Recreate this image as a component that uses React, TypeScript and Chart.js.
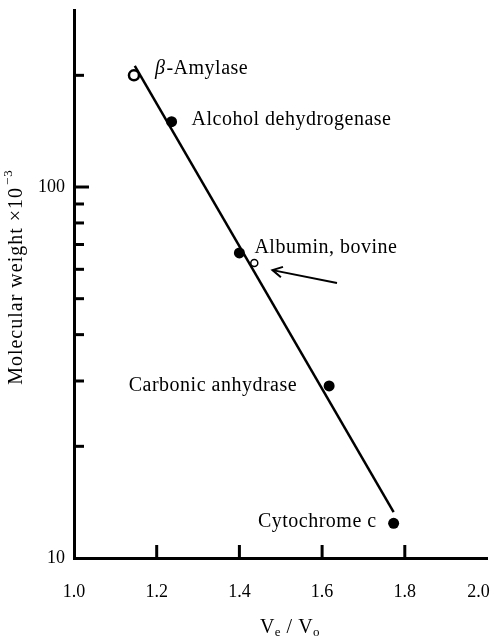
import React, { useEffect, useRef } from 'react';
import { Chart, registerables } from 'chart.js';

Chart.register(...registerables);

// ---- data ----
const xTickValues = [1.0, 1.2, 1.4, 1.6, 1.8, 2.0];
const yTickValues = [10, 20, 30, 40, 50, 60, 70, 80, 90, 100, 200, 300];
const yLabelledTicks = [10, 100];

const filledNames = ['Alcohol dehydrogenase', 'Albumin, bovine', 'Carbonic anhydrase', 'Cytochrome c'];
const filledX = [1.236, 1.4, 1.617, 1.773];
const filledY = [150, 66.4, 29.1, 12.4];

const openNames = ['β-Amylase', 'Albumin (open)'];
const openX = [1.145, 1.436];
const openY = [200, 62.4];

const fitX = [1.147, 1.773];
const fitY = [212, 13.3];

const arrowX = [1.636, 1.48];
const arrowY = [55.1, 59.7];

// ---- styles ----
const SERIF = '"Liberation Serif", "Times New Roman", serif';
const labelStyle: Record<string, { side: 'left' | 'right'; dx: number; dy: number; series: 'filled' | 'open'; idx: number }> = {
  'β-Amylase': { side: 'left', dx: 21, dy: -1, series: 'open', idx: 0 },
  'Alcohol dehydrogenase': { side: 'left', dx: 20, dy: 3, series: 'filled', idx: 0 },
  'Albumin, bovine': { side: 'left', dx: 15, dy: 0, series: 'filled', idx: 1 },
  'Carbonic anhydrase': { side: 'right', dx: -32, dy: 5, series: 'filled', idx: 2 },
  'Cytochrome c': { side: 'right', dx: -17, dy: 4, series: 'filled', idx: 3 },
};

const decorPlugin = {
  id: 'decor',
  afterDraw(chart: any) {
    const ctx: CanvasRenderingContext2D = chart.ctx;
    const xs = chart.scales.x;
    const ys = chart.scales.y;
    const area = chart.chartArea;
    ctx.save();
    ctx.strokeStyle = '#000';
    ctx.fillStyle = '#000';
    ctx.lineCap = 'butt';

    // inward tick marks on y axis
    ctx.lineWidth = 3;
    ys.ticks.forEach((t: any) => {
      if (t.value <= 10 || t.value >= 300) return;
      const py = ys.getPixelForValue(t.value);
      const len = t.value === 100 ? 15 : 10;
      ctx.beginPath();
      ctx.moveTo(area.left, py);
      ctx.lineTo(area.left + len, py);
      ctx.stroke();
    });
    // inward tick marks on x axis
    xs.ticks.forEach((t: any) => {
      if (t.value <= 1.0 || t.value >= 2.0) return;
      const px = xs.getPixelForValue(t.value);
      ctx.beginPath();
      ctx.moveTo(px, area.bottom);
      ctx.lineTo(px, area.bottom - 13);
      ctx.stroke();
    });

    // arrow
    const ax0 = xs.getPixelForValue(arrowX[0]);
    const ay0 = ys.getPixelForValue(arrowY[0]);
    const ax1 = xs.getPixelForValue(arrowX[1]);
    const ay1 = ys.getPixelForValue(arrowY[1]);
    ctx.lineWidth = 2;
    ctx.beginPath();
    ctx.moveTo(ax0, ay0);
    ctx.lineTo(ax1, ay1);
    ctx.stroke();
    const ang = Math.atan2(ay0 - ay1, ax0 - ax1);
    const head = 11;
    ctx.beginPath();
    ctx.moveTo(ax1 + head * Math.cos(ang + 0.5), ay1 + head * Math.sin(ang + 0.5));
    ctx.lineTo(ax1, ay1);
    ctx.lineTo(ax1 + head * Math.cos(ang - 0.5), ay1 + head * Math.sin(ang - 0.5));
    ctx.stroke();

    // annotation labels
    (ctx as any).letterSpacing = '0.5px';
    ctx.textBaseline = 'alphabetic';
    Object.keys(labelStyle).forEach((name) => {
      const s = labelStyle[name];
      const px = xs.getPixelForValue(s.series === 'filled' ? filledX[s.idx] : openX[s.idx]);
      const py = ys.getPixelForValue(s.series === 'filled' ? filledY[s.idx] : openY[s.idx]);
      const bx = px + s.dx;
      const by = py + s.dy;
      if (name.startsWith('β')) {
        ctx.textAlign = 'left';
        ctx.font = `italic 20px ${SERIF}`;
        ctx.fillText('β', bx, by);
        const w = ctx.measureText('β').width;
        ctx.font = `20px ${SERIF}`;
        ctx.fillText(name.slice(1), bx + w + 1, by);
      } else {
        ctx.font = `20px ${SERIF}`;
        ctx.textAlign = s.side;
        ctx.fillText(name, bx, by);
      }
    });

    // x axis title: Ve / Vo
    ctx.textAlign = 'left';
    const big = `20px ${SERIF}`;
    const small = `13px ${SERIF}`;
    const parts: [string, string, number][] = [
      ['V', big, 0],
      ['e', small, 3],
      [' / ', big, 0],
      ['V', big, 0],
      ['o', small, 3],
    ];
    let total = 0;
    parts.forEach(([t, f]) => {
      ctx.font = f;
      total += ctx.measureText(t).width;
    });
    let cx = 290 - total / 2;
    const base = 633;
    parts.forEach(([t, f, off]) => {
      ctx.font = f;
      ctx.fillText(t, cx, base + off);
      cx += ctx.measureText(t).width;
    });

    // y axis title: Molecular weight ×10^-3 (rotated)
    ctx.save();
    ctx.translate(17, 277);
    ctx.rotate(-Math.PI / 2);
    (ctx as any).letterSpacing = '1px';
    const main = 'Molecular weight ×10';
    const sup = '−3';
    ctx.font = `20px ${SERIF}`;
    const wMain = ctx.measureText(main).width;
    ctx.font = `13px ${SERIF}`;
    const wSup = ctx.measureText(sup).width;
    const start = -(wMain + wSup + 2) / 2;
    ctx.textBaseline = 'middle';
    ctx.font = `20px ${SERIF}`;
    ctx.fillText(main, start, 0);
    ctx.font = `13px ${SERIF}`;
    ctx.fillText(sup, start + wMain + 2, -8);
    ctx.restore();

    ctx.restore();
  },
};

export default function App() {
  const ref = useRef<HTMLCanvasElement | null>(null);

  useEffect(() => {
    if (!ref.current) return;
    const chart = new Chart(ref.current, {
      type: 'scatter',
      data: {
        datasets: [
          {
            label: 'open',
            data: openX.map((x, i) => ({ x, y: openY[i] })),
            pointRadius: [5, 3.5],
            pointBorderWidth: [2.5, 1.5],
            pointBackgroundColor: '#fff',
            pointBorderColor: '#000',
            order: 0,
          },
          {
            label: 'filled',
            data: filledX.map((x, i) => ({ x, y: filledY[i] })),
            pointRadius: 5.5,
            pointBorderWidth: 0,
            pointBackgroundColor: '#000',
            pointBorderColor: '#000',
            order: 1,
          },
          {
            label: 'fit',
            data: fitX.map((x, i) => ({ x, y: fitY[i] })),
            showLine: true,
            borderColor: '#000',
            borderWidth: 2.5,
            pointRadius: 0,
            order: 2,
          } as any,
        ],
      },
      options: {
        animation: false,
        responsive: false,
        devicePixelRatio: 1,
        layout: { padding: { top: 10, right: 6, left: 0, bottom: 0 } },
        plugins: {
          legend: { display: false },
          tooltip: { enabled: false },
        },
        scales: {
          x: {
            type: 'linear',
            min: 1,
            max: 2,
            afterBuildTicks: (s: any) => {
              s.ticks = xTickValues.map((v) => ({ value: v }));
            },
            ticks: {
              autoSkip: false,
              maxRotation: 0,
              color: '#000',
              padding: 23,
              font: { family: SERIF, size: 18 },
              callback: (v: any) => (Number(v) === 2 ? Number(v).toFixed(1) + '    ' : Number(v).toFixed(1)),
            },
            grid: { display: false, drawTicks: false },
            border: { display: true, color: '#000', width: 3 },
            afterFit: (s: any) => {
              s.height = 81;
              s.paddingLeft = 0;
              s.paddingRight = 0;
            },
          },
          y: {
            type: 'logarithmic',
            min: 10,
            max: 300,
            afterBuildTicks: (s: any) => {
              s.ticks = yTickValues.map((v) => ({ value: v }));
            },
            ticks: {
              autoSkip: false,
              color: '#000',
              padding: 9,
              font: { family: SERIF, size: 18 },
              callback: (v: any) => (yLabelledTicks.includes(Number(v)) ? String(v) : ''),
            },
            grid: { display: false, drawTicks: false },
            border: { display: true, color: '#000', width: 3 },
            afterFit: (s: any) => {
              s.width = 74;
              s.paddingTop = 0;
              s.paddingBottom = 0;
            },
          },
        },
      } as any,
      plugins: [decorPlugin],
    });
    return () => chart.destroy();
  }, []);

  return (
    <div style={{ position: 'absolute', left: 0, top: 0, width: 495, height: 639, background: '#fff' }}>
      <canvas ref={ref} width={495} height={639} style={{ display: 'block' }} />
    </div>
  );
}
